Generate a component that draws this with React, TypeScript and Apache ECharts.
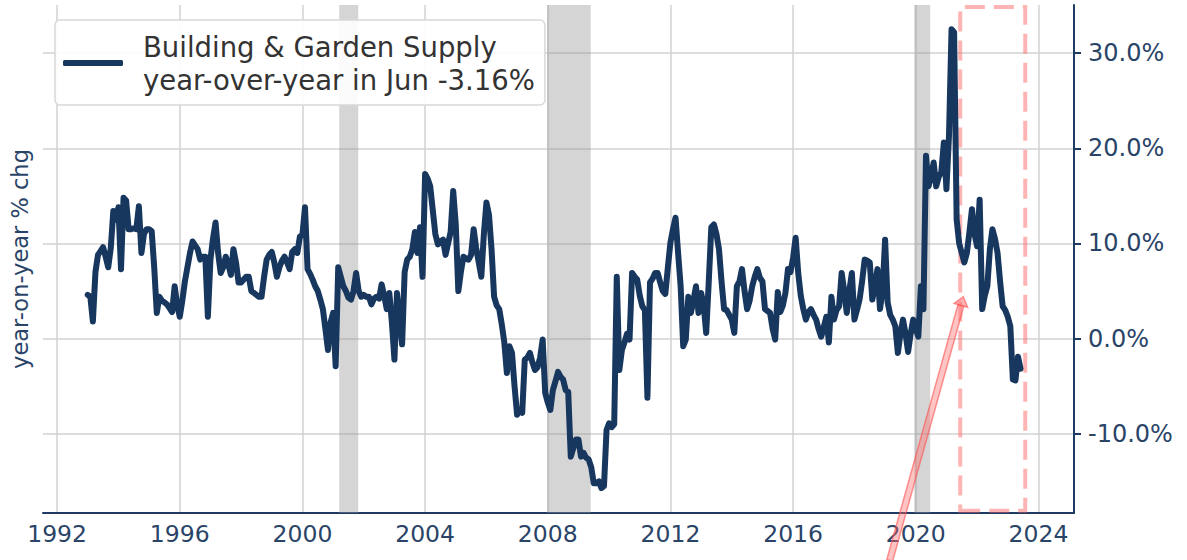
import React, { useEffect, useRef } from "react";
import * as echarts from "echarts";

// ---------------- data (monthly, Jan 1993 .. Jun 2023) ----------------
const startYear = 1993;

const vals1993to1999 = [
  4.6, 4.4, 1.8, 7.0, 8.8, 9.2, 9.6, 8.6, 7.5, 9.5, 13.4, 12.5,
  13.8, 7.3, 14.8, 14.5, 11.5, 11.5, 11.6, 11.5, 13.9, 9.0, 11.0, 11.5,
  11.5, 11.3, 7.5, 2.7, 4.4, 4.0, 3.8, 3.6, 3.2, 2.8, 5.5, 3.5,
  2.3, 4.0, 6.0, 7.5, 9.0, 10.2, 9.8, 9.4, 8.3, 8.6, 8.6, 2.3,
  8.3, 10.5, 12.2, 9.0, 6.9, 7.5, 8.6, 7.8, 6.7, 9.4, 8.0, 5.9,
  5.9, 6.2, 6.5, 6.5, 5.0, 4.8, 4.6, 4.4, 4.4, 6.5, 8.3, 8.8,
  9.1, 8.0, 6.5, 7.5, 8.2, 8.6, 8.0, 7.3, 9.1, 9.4, 9.0, 10.7,
];

const vals2000to2009 = [
  10.9, 13.8, 7.3, 6.8, 6.2, 5.5, 5.0, 4.1, 3.1, 1.0, -1.2, 1.7,
  2.7, -2.9, 7.5, 6.5, 5.5, 5.0, 4.3, 4.1, 5.0, 6.9, 5.0, 4.4,
  4.6, 4.4, 4.4, 3.6, 4.2, 4.4, 4.2, 5.7, 4.5, 3.1, 4.8, 1.7,
  -2.2, 4.8, 2.0, -0.6, 7.0, 8.3, 8.6, 9.4, 11.2, 9.0, 11.7, 6.5,
  17.3, 16.8, 16.0, 13.5, 11.0, 9.9, 10.2, 10.4, 8.8, 10.0, 11.2, 15.5,
  12.0, 5.0, 7.0, 8.6, 8.4, 8.3, 8.8, 11.5, 9.5, 8.0, 6.5, 11.0,
  14.3, 13.0, 9.4, 4.4, 3.5, 3.1, 1.5, -0.4, -3.6, -0.8, -1.5, -5.0,
  -8.0, -7.5, -7.8, -2.2, -2.0, -1.5, -2.5, -3.3, -3.0, -2.0, -0.1, -5.7,
  -6.7, -7.5, -5.4, -4.5, -3.5, -4.0, -4.3, -5.4, -5.6, -12.4, -11.5, -10.6,
  -10.6, -12.4, -12.0, -12.5, -12.7, -13.5, -15.2, -15.2, -15.0, -15.7, -15.5, -9.6,
];

const vals2010to2019 = [
  -8.9, -9.3, -9.0, 6.5, -3.3, -1.2, -0.4, 0.5, -0.1, 6.9, 6.5, 6.2,
  4.5, 3.4, 3.0, -6.2, 5.9, 6.3, 6.9, 6.9, 5.9, 5.0, 4.7, 7.5,
  10.1, 11.5, 12.7, 9.0, 5.5, -0.8, -0.1, 4.4, 2.7, 4.0, 5.5, 2.7,
  4.8, 3.5, 0.6, 6.0, 11.7, 12.0, 11.0, 9.4, 6.0, 3.1, 3.0, 2.5,
  2.0, 0.6, 5.5, 6.0, 7.3, 5.0, 3.1, 4.0, 5.5, 6.5, 7.3, 6.4,
  6.0, 3.1, 2.9, 2.7, 1.0, -0.1, 4.9, 2.8, 3.5, 4.8, 7.3, 7.0,
  8.5, 10.6, 6.9, 4.5, 3.1, 2.0, 2.8, 3.1, 2.5, 2.0, 1.0, 0.2,
  1.2, 2.3, -0.4, 4.4, 2.0, 3.0, 3.4, 6.9, 5.0, 2.7, 5.0, 6.9,
  2.0, 3.0, 4.1, 6.0, 8.3, 8.2, 8.0, 4.1, 5.5, 7.3, 3.1, 5.0,
  10.4, 3.8, 2.5, 2.0, 1.3, -1.5, 0.5, 2.0, 0.5, -1.4, 0.5, 2.0,
];

const vals2020to2023 = [
  1.0, 0.2, 5.5, 3.1, 19.2, 16.0, 17.0, 18.5, 16.0, 17.0, 17.5, 20.6,
  15.7, 21.3, 32.5, 32.2, 12.5, 10.0, 9.0, 8.0, 9.0, 11.2, 13.6, 11.0,
  9.7, 14.6, 3.1, 4.5, 5.5, 9.4, 11.5, 10.5, 9.0, 6.0, 3.4, 3.0,
  2.3, 1.3, -4.3, -4.4, -1.9, -3.16,
];

const seriesName = "Building & Garden Supply";
const legendSubtitle = "year-over-year in Jun -3.16%";
const yAxisName = "year-on-year % chg";

const xTickYears = [1992, 1996, 2000, 2004, 2008, 2012, 2016, 2020, 2024];
const yTickValues = [-10, 0, 10, 20, 30];
const xRange = [1991.54, 2025.16];
const yRange = [-18.32, 35.05];

const recessionStart = [2001.2, 2007.98, 2019.95];
const recessionEnd = [2001.82, 2009.4, 2020.47];

const highlightX = [2021.45, 2023.57];
const highlightY = [-18.08, 34.83];

const arrowTail = [2019.15, -23.3];
const arrowTip = [2021.55, 4.4];

// ---------------- styles ----------------
const NAVY = "#17375e";
const AXIS = "#1f3a63";
const LABEL = "#2a4468";
const GRID = "#d2d2d2";
const FONT = "DejaVu Sans";

export default function App() {
  const ref = useRef<HTMLDivElement | null>(null);

  useEffect(() => {
    if (!ref.current) return;
    const chart = echarts.init(ref.current, undefined, { renderer: "svg" });

    const allVals = [...vals1993to1999, ...vals2000to2009, ...vals2010to2019, ...vals2020to2023];
    const data = allVals.map((v, i) => [startYear + i / 12, v]);

    const areas: any[] = recessionStart.map((s, i) => [
      { coord: [s, yRange[0]], itemStyle: { color: "rgba(150,150,150,0.40)" } },
      { coord: [recessionEnd[i], yRange[1]] },
    ]);
    areas.push([
      {
        coord: [highlightX[0], highlightY[0]],
        itemStyle: {
          color: "rgba(0,0,0,0)",
          borderColor: "rgba(255,105,105,0.5)",
          borderWidth: 4,
          borderType: [20, 9],
        },
      },
      { coord: [highlightX[1], highlightY[1]] },
    ]);

    const option: any = {
      animation: false,
      backgroundColor: "#ffffff",
      grid: { left: 41, right: 113, top: 5, bottom: 47, containLabel: false },
      legend: {
        data: [seriesName],
        left: 55,
        top: 20,
        icon: "roundRect",
        itemWidth: 60,
        itemHeight: 6,
        selectedMode: false,
        backgroundColor: "rgba(255,255,255,0.9)",
        borderColor: "#d8d8d8",
        borderWidth: 1.5,
        borderRadius: 5,
        padding: [10, 10, 9, 8],
        formatter: (name: string) => name + "\n" + legendSubtitle,
        textStyle: {
          color: "#333333",
          fontSize: 27.5,
          lineHeight: 33,
          fontFamily: FONT,
          padding: [0, 0, 0, 15],
        },
      },
      xAxis: {
        type: "value",
        min: xRange[0],
        max: xRange[1],
        axisLine: { show: true, onZero: false, lineStyle: { color: AXIS, width: 2 } },
        axisTick: { show: false, customValues: xTickYears },
        axisLabel: {
          customValues: xTickYears,
          color: LABEL,
          fontSize: 23.5,
          fontFamily: FONT,
          margin: 9,
          formatter: (v: number) => String(Math.round(v)),
        },
        splitLine: { show: true, lineStyle: { color: GRID, width: 1.5 } },
      },
      yAxis: [
        {
          type: "value",
          position: "right",
          min: yRange[0],
          max: yRange[1],
          axisLine: { show: true, onZero: false, lineStyle: { color: AXIS, width: 2 } },
          axisTick: { show: true, length: 7, customValues: yTickValues, lineStyle: { color: AXIS, width: 2 } },
          axisLabel: {
            customValues: yTickValues,
            color: LABEL,
            fontSize: 24,
            fontFamily: FONT,
            margin: 14,
            formatter: (v: number) => v.toFixed(1) + "%",
          },
          splitLine: { show: true, lineStyle: { color: GRID, width: 1.5 } },
        },
        {
          type: "value",
          position: "left",
          min: yRange[0],
          max: yRange[1],
          name: yAxisName,
          nameLocation: "middle",
          nameGap: 12,
          nameTextStyle: { color: LABEL, fontSize: 22.5, fontFamily: FONT },
          axisLine: { show: false, onZero: false },
          axisTick: { show: false },
          axisLabel: { show: false },
          splitLine: { show: false },
        },
      ],
      series: [
        {
          type: "line",
          name: seriesName,
          data,
          yAxisIndex: 0,
          symbol: "none",
          showSymbol: false,
          lineStyle: { color: NAVY, width: 6, cap: "round", join: "round" },
          itemStyle: { color: NAVY },
          z: 3,
          markArea: { silent: true, data: areas },
        },
      ],
    };

    chart.setOption(option);

    const tail = chart.convertToPixel({ xAxisIndex: 0, yAxisIndex: 0 }, arrowTail) as number[];
    const tip = chart.convertToPixel({ xAxisIndex: 0, yAxisIndex: 0 }, arrowTip) as number[];
    if (tail && tip) {
      const dx = tip[0] - tail[0];
      const dy = tip[1] - tail[1];
      const len = Math.sqrt(dx * dx + dy * dy);
      const ux = dx / len;
      const uy = dy / len;
      const px = -uy;
      const py = ux;
      const hw = 3;
      const headLen = 9;
      const headW = 7;
      const bx = tip[0] - ux * headLen;
      const by = tip[1] - uy * headLen;
      const shaft = [
        [tail[0] + px * hw, tail[1] + py * hw],
        [bx + px * hw, by + py * hw],
        [bx - px * hw, by - py * hw],
        [tail[0] - px * hw, tail[1] - py * hw],
      ];
      const head = [
        [tip[0], tip[1]],
        [bx + px * headW, by + py * headW],
        [bx - px * headW, by - py * headW],
      ];
      chart.setOption({
        graphic: [
          {
            type: "polygon",
            z: 100,
            silent: true,
            shape: { points: shaft },
            style: { fill: "rgba(255,110,110,0.4)", stroke: "rgba(255,80,80,0.6)", lineWidth: 1.5 },
          },
          {
            type: "polygon",
            z: 100,
            silent: true,
            shape: { points: head },
            style: { fill: "rgba(255,110,110,0.5)", stroke: "rgba(255,80,80,0.6)", lineWidth: 1.5 },
          },
        ],
      });
    }

    return () => {
      chart.dispose();
    };
  }, []);

  return (
    <div
      ref={ref}
      style={{ position: "fixed", left: 0, top: 0, width: 1187, height: 560, background: "#fff" }}
    />
  );
}
